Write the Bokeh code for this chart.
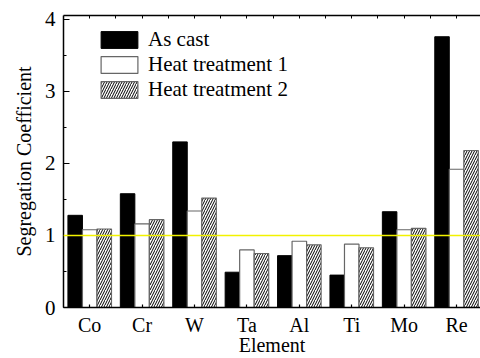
from bokeh.plotting import figure
from bokeh.models import (ColumnDataSource, Range1d, FixedTicker, SingleIntervalTicker,
                          LinearAxis, Span, Legend, LegendItem)
from bokeh.transform import dodge
from bokeh.embed import file_html
from bokeh.resources import INLINE

# ---- data ----
elements = ["Co", "Cr", "W", "Ta", "Al", "Ti", "Mo", "Re"]
as_cast = [1.28, 1.58, 2.30, 0.49, 0.72, 0.45, 1.33, 3.76]
heat_treatment_1 = [1.08, 1.16, 1.34, 0.80, 0.92, 0.88, 1.08, 1.92]
heat_treatment_2 = [1.09, 1.22, 1.52, 0.75, 0.87, 0.83, 1.10, 2.18]
series_names = ["As cast", "Heat treatment 1", "Heat treatment 2"]
reference_value = 1.0

FONT = "Liberation Serif"
pos = list(range(len(elements)))
src = ColumnDataSource(dict(x=pos, a=as_cast, h1=heat_treatment_1, h2=heat_treatment_2))

p = figure(width=480, height=358, output_backend="svg", toolbar_location=None,
           x_range=Range1d(-0.5, 7.457), y_range=Range1d(0, 4.055),
           min_border_left=63, min_border_right=0, min_border_top=15, min_border_bottom=10)
p.outline_line_color = None
p.grid.visible = False
p.background_fill_color = "white"
p.border_fill_color = "white"

bw = 0.277
r1 = p.vbar(x=dodge("x", -bw, range=p.x_range), top="a", width=bw, source=src,
            fill_color="black", line_color="black", line_width=1)
r2 = p.vbar(x=dodge("x", 0, range=p.x_range), top="h1", width=bw, source=src,
            fill_color="white", line_color="#666666", line_width=1.2)
r3 = p.vbar(x=dodge("x", bw, range=p.x_range), top="h2", width=bw, source=src,
            fill_color="white", line_color="#666666", line_width=1.2,
            hatch_pattern="/", hatch_color="black", hatch_scale=5, hatch_weight=1)

p.add_layout(Span(location=reference_value, dimension="width",
                  line_color="#f2f200", line_width=1.6))

# x axis (bottom)
xa = p.xaxis[0]
xa.ticker = FixedTicker(ticks=pos)
xa.major_label_overrides = {i: e for i, e in enumerate(elements)}
xa.axis_label = "Element"
xa.major_tick_in = 3
xa.major_tick_out = 0
xa.minor_tick_in = 0
xa.minor_tick_out = 0
xa.axis_line_width = 1.5
xa.major_tick_line_width = 1.2
xa.major_label_standoff = 6
xa.axis_label_standoff = -5
xa.major_label_text_font = FONT
xa.major_label_text_font_size = "20px"
xa.major_label_text_color = "black"
xa.axis_label_text_font = FONT
xa.axis_label_text_font_size = "20px"
xa.axis_label_text_font_style = "normal"
xa.axis_label_text_color = "black"

# y axis (left)
ya = p.yaxis[0]
ya.ticker = SingleIntervalTicker(interval=1, num_minor_ticks=2)
ya.axis_label = "Segregation Coefficient"
ya.major_tick_in = 6
ya.major_tick_out = 0
ya.minor_tick_in = 3
ya.minor_tick_out = 0
ya.axis_line_width = 1.5
ya.major_tick_line_width = 1.2
ya.minor_tick_line_width = 1.2
ya.major_label_standoff = 8
ya.axis_label_standoff = 7
ya.major_label_text_font = FONT
ya.major_label_text_font_size = "21px"
ya.major_label_text_color = "black"
ya.axis_label_text_font = FONT
ya.axis_label_text_font_size = "20px"
ya.axis_label_text_font_style = "normal"
ya.axis_label_text_color = "black"

# top axis (frame line with small ticks)
top_ticks = [i * 0.5 for i in range(0, 16)]
top = LinearAxis(ticker=FixedTicker(ticks=top_ticks),
                 major_label_overrides={t: "" for t in top_ticks},
                 major_tick_in=3, major_tick_out=0,
                 minor_tick_in=0, minor_tick_out=0, axis_line_width=1.5,
                 major_tick_line_width=1, major_label_standoff=0)
p.add_layout(top, "above")

legend = Legend(items=[LegendItem(label=series_names[0], renderers=[r1]),
                       LegendItem(label=series_names[1], renderers=[r2]),
                       LegendItem(label=series_names[2], renderers=[r3])],
                location=(33, 205), glyph_width=46, glyph_height=21,
                label_height=21, spacing=0, padding=0, margin=0,
                label_standoff=6, border_line_color=None,
                background_fill_alpha=0,
                label_text_font=FONT, label_text_font_size="21px",
                label_text_color="black")
p.add_layout(legend)

open("out.html", "w").write(file_html(p, INLINE))
